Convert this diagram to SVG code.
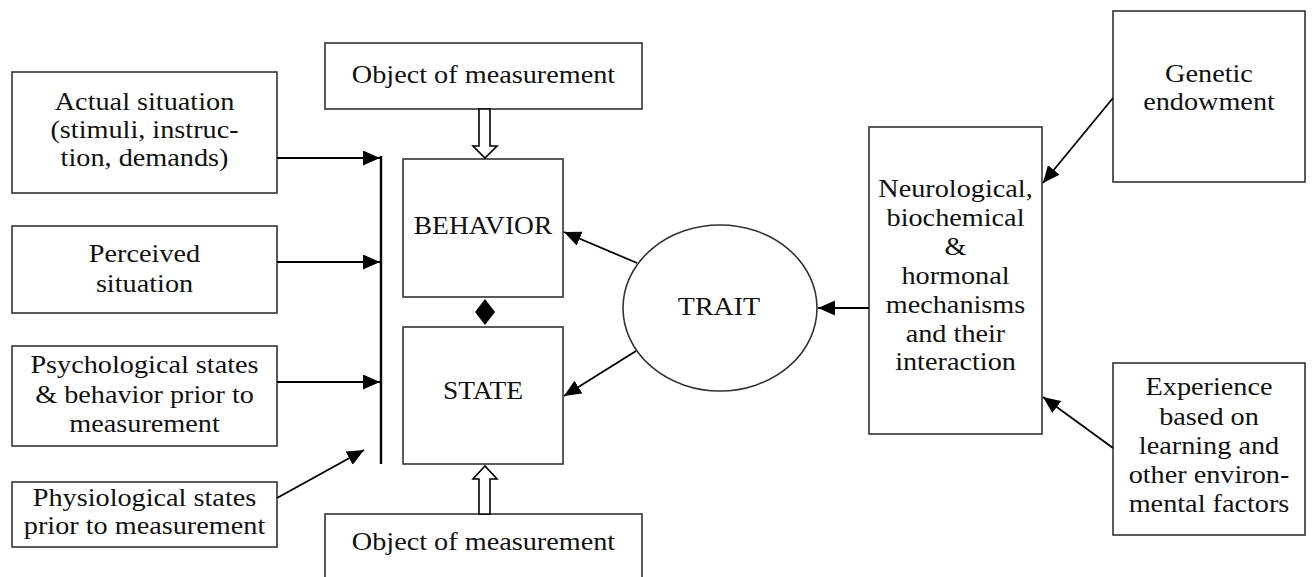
<svg xmlns="http://www.w3.org/2000/svg" width="1312" height="577" viewBox="0 0 1312 577">
<defs>
<style>
.box{fill:#fff;stroke:#333;stroke-width:1.6}
.t{font-family:"Liberation Serif","Times New Roman",serif;font-size:25px;fill:#111;text-anchor:middle}
.ln{stroke:#000;stroke-width:1.8;fill:none}
.hollow{fill:#fff;stroke:#000;stroke-width:1.6}
</style>
<marker id="ah" markerUnits="userSpaceOnUse" markerWidth="18" markerHeight="16" refX="17" refY="7.5" orient="auto">
<path d="M0,0 L17,7.5 L0,15 z" fill="#000"/>
</marker>
</defs>
<rect width="1312" height="577" fill="#fff"/>

<g id="actual">
<rect class="box" x="12" y="72" width="265" height="121"/>
<text class="t" transform="translate(144.5,0) scale(1.13,1)"><tspan x="0" y="110">Actual situation</tspan><tspan x="0" y="138">(stimuli, instruc-</tspan><tspan x="0" y="166">tion, demands)</tspan></text>
</g>
<g id="perceived">
<rect class="box" x="12" y="226" width="265" height="87"/>
<text class="t" transform="translate(144.5,0) scale(1.13,1)"><tspan x="0" y="262">Perceived</tspan><tspan x="0" y="292">situation</tspan></text>
</g>
<g id="psych">
<rect class="box" x="12" y="346" width="265" height="100"/>
<text class="t" transform="translate(144.5,0) scale(1.13,1)"><tspan x="0" y="373">Psychological states</tspan><tspan x="0" y="403">&amp; behavior prior to</tspan><tspan x="0" y="432">measurement</tspan></text>
</g>
<g id="physio">
<rect class="box" x="12" y="482" width="265" height="65"/>
<text class="t" transform="translate(144.5,0) scale(1.13,1)"><tspan x="0" y="506">Physiological states</tspan><tspan x="0" y="534">prior to measurement</tspan></text>
</g>
<g id="object-top">
<rect class="box" x="325" y="43" width="317" height="66"/>
<text class="t" transform="translate(483.5,0) scale(1.13,1)"><tspan x="0" y="83">Object of measurement</tspan></text>
</g>
<g id="object-bottom">
<rect class="box" x="325" y="514" width="317" height="80"/>
<text class="t" transform="translate(483.5,0) scale(1.13,1)"><tspan x="0" y="550">Object of measurement</tspan></text>
</g>
<g id="behavior">
<rect class="box" x="403" y="159" width="160" height="138"/>
<text class="t" transform="translate(483,0) scale(1.1,1)"><tspan x="0" y="234">BEHAVIOR</tspan></text>
</g>
<g id="state">
<rect class="box" x="403" y="327" width="160" height="137"/>
<text class="t" transform="translate(483,0) scale(1.1,1)"><tspan x="0" y="399">STATE</tspan></text>
</g>
<g id="trait">
<ellipse class="box" cx="720" cy="308" rx="97" ry="83"/>
<text class="t" transform="translate(719,0) scale(1.12,1)"><tspan x="0" y="315">TRAIT</tspan></text>
</g>
<g id="neuro">
<rect class="box" x="869" y="127" width="173" height="307"/>
<text class="t" transform="translate(955.5,0) scale(1.13,1)"><tspan x="0" y="197">Neurological,</tspan><tspan x="0" y="226">biochemical</tspan><tspan x="0" y="255">&amp;</tspan><tspan x="0" y="284">hormonal</tspan><tspan x="0" y="313">mechanisms</tspan><tspan x="0" y="342">and their</tspan><tspan x="0" y="370">interaction</tspan></text>
</g>
<g id="genetic">
<rect class="box" x="1113" y="11" width="192" height="171"/>
<text class="t" transform="translate(1209,0) scale(1.13,1)"><tspan x="0" y="82">Genetic</tspan><tspan x="0" y="110">endowment</tspan></text>
</g>
<g id="experience">
<rect class="box" x="1113" y="363" width="192" height="172"/>
<text class="t" transform="translate(1209,0) scale(1.13,1)"><tspan x="0" y="395">Experience</tspan><tspan x="0" y="425">based on</tspan><tspan x="0" y="454">learning and</tspan><tspan x="0" y="483">other environ-</tspan><tspan x="0" y="512">mental factors</tspan></text>
</g>

<g id="connectors">
<line x1="381" y1="156" x2="381" y2="464" stroke="#000" stroke-width="2.4"/>
<line class="ln" x1="277" y1="158" x2="380" y2="158" marker-end="url(#ah)"/>
<line class="ln" x1="277" y1="262" x2="380" y2="262" marker-end="url(#ah)"/>
<line class="ln" x1="277" y1="382" x2="380" y2="382" marker-end="url(#ah)"/>
<line class="ln" x1="277" y1="498" x2="364" y2="450" marker-end="url(#ah)"/>
<polygon class="hollow" points="479,109 479,146 473,146 485,158 497,146 490,146 490,109"/>
<polygon class="hollow" points="479,514 479,479 473,479 485,466 497,479 490,479 490,514"/>
<polygon points="485,299 495,312 485,325 475,312" fill="#000"/>
<line class="ln" x1="637" y1="263" x2="564" y2="232" marker-end="url(#ah)"/>
<line class="ln" x1="636" y1="351" x2="564" y2="396" marker-end="url(#ah)"/>
<line class="ln" x1="869" y1="308" x2="818" y2="308" marker-end="url(#ah)"/>
<line class="ln" x1="1113" y1="98" x2="1043" y2="183" marker-end="url(#ah)"/>
<line class="ln" x1="1113" y1="448" x2="1043" y2="397" marker-end="url(#ah)"/>
</g>
</svg>
